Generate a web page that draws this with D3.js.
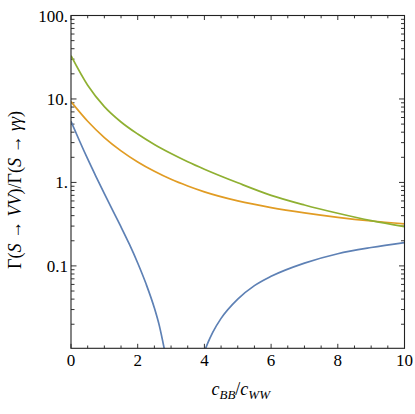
<!DOCTYPE html>
<html>
<head>
  <meta charset="utf-8">
  <title>Decay ratios</title>
  <script src="https://d3js.org/d3.v7.min.js"></script>
  <style type="text/css">
  body { margin: 0; background: white; }
  text { font-family: "Liberation Serif", "DejaVu Serif", serif; fill: black; }
  </style>
</head>
<body>
<div id="chart"></div>
<script>

// values, ratio Gamma(S -> VV)/Gamma(S -> gamma gamma)
var xGrid = [0, 0.5, 1, 1.5, 2, 2.5, 3, 3.5, 4, 5, 6, 7, 8, 9, 10];
var ratioWW = [33, 14.6, 8.1, 5.3, 3.8, 2.85, 2.22, 1.77, 1.44, 0.99, 0.70, 0.537, 0.427, 0.348, 0.295];
var ratioZZ = [9.3, 5.41, 3.45, 2.39, 1.76, 1.36, 1.09, 0.906, 0.771, 0.601, 0.500, 0.432, 0.382, 0.345, 0.318];

// Z gamma has a zero between 2.8 and 4, so two pieces
var xZgLeft = [0, 0.25, 0.5, 0.75, 1, 1.25, 1.5, 1.75, 2, 2.25, 2.5, 2.65, 2.8];
var ratioZgLeft = [5.4, 3.18, 1.91, 1.175, 0.733, 0.462, 0.293, 0.182, 0.1084, 0.061, 0.0313, 0.0191, 0.0100];
var xZgRight = [4, 4.1, 4.25, 4.5, 5, 5.5, 6, 7, 8, 9, 10];
var ratioZgRight = [0.0094, 0.0119, 0.016, 0.0235, 0.040, 0.058, 0.075, 0.108, 0.140, 0.166, 0.190];

var xTicks = [0, 2, 4, 6, 8, 10];
var yTicks = [100, 10, 1, 0.1];
var yTickLabels = ["100.", "10.", "1.", "0.1"];

var width = 415,
    height = 414;
var margin = {left: 71, top: 15.5, right: 10.5, bottom: 65.7};
var w = width - margin.left - margin.right,
    h = height - margin.top - margin.bottom;

var svg = d3.select("#chart")
  .append("svg")
    .attr("width", width)
    .attr("height", height);

var g = svg.append("g")
  .attr("transform", "translate(" + margin.left + "," + margin.top + ")");

var x = d3.scaleLinear().domain([0, 10]).range([0, w]);
var y = d3.scaleLog().domain([0.0103, 100]).range([h, 0]);

g.append("clipPath")
  .attr("id", "plotclip")
  .append("rect")
    .attr("width", w)
    .attr("height", h);

// minor ticks
var xMinor = d3.range(0, 10.01, 0.5);
var yMinor = [];
[0.01, 0.1, 1, 10].forEach(function(d) {
  for (var k = 2; k <= 9; k++) yMinor.push(d * k);
});
yMinor = yMinor.filter(function(d) { return d > 0.0103 && d < 100; });

var tickColor = "#333";

// bottom + top ticks
xMinor.forEach(function(d) {
  var major = xTicks.indexOf(d) >= 0;
  var len = major ? 4.5 : 2.8;
  g.append("line")
    .attr("x1", x(d)).attr("x2", x(d))
    .attr("y1", h).attr("y2", h - len)
    .attr("stroke", tickColor).attr("stroke-width", 1);
  g.append("line")
    .attr("x1", x(d)).attr("x2", x(d))
    .attr("y1", 0).attr("y2", len)
    .attr("stroke", tickColor).attr("stroke-width", 1);
});

// left + right ticks
yTicks.concat(yMinor).forEach(function(d) {
  var major = yTicks.indexOf(d) >= 0;
  var len = major ? 5.5 : 3.5;
  g.append("line")
    .attr("x1", 0).attr("x2", len)
    .attr("y1", y(d)).attr("y2", y(d))
    .attr("stroke", tickColor).attr("stroke-width", 1);
  g.append("line")
    .attr("x1", w).attr("x2", w - len)
    .attr("y1", y(d)).attr("y2", y(d))
    .attr("stroke", tickColor).attr("stroke-width", 1);
});

// tick labels
g.selectAll(".xlab")
  .data(xTicks)
  .enter()
  .append("text")
    .attr("x", function(d) { return x(d); })
    .attr("y", h + 18)
    .attr("text-anchor", "middle")
    .style("font-size", "17px")
    .text(function(d) { return d; });

g.selectAll(".ylab")
  .data(yTicks)
  .enter()
  .append("text")
    .attr("x", -3)
    .attr("y", function(d) { return y(d) + 6; })
    .attr("text-anchor", "end")
    .style("font-size", "17px")
    .text(function(d, i) { return yTickLabels[i]; });

// curves
var line = d3.line()
  .x(function(d) { return x(d[0]); })
  .y(function(d) { return y(d[1]); })
  .curve(d3.curveMonotoneX);

var curves = [
  {xs: xZgLeft, ys: ratioZgLeft, color: "#5e81b5"},
  {xs: xZgRight, ys: ratioZgRight, color: "#5e81b5"},
  {xs: xGrid, ys: ratioZZ, color: "#e19c24"},
  {xs: xGrid, ys: ratioWW, color: "#8fb032"}
];

g.append("g")
  .attr("clip-path", "url(#plotclip)")
  .selectAll("path")
  .data(curves)
  .enter()
  .append("path")
    .attr("d", function(c) { return line(d3.zip(c.xs, c.ys)); })
    .attr("fill", "none")
    .attr("stroke", function(c) { return c.color; })
    .attr("stroke-width", 1.7);

// frame
g.append("rect")
  .attr("width", w)
  .attr("height", h)
  .attr("fill", "none")
  .attr("stroke", "#222")
  .attr("stroke-width", 1.1);

// axis titles
var xt = svg.append("text")
  .attr("x", margin.left + w / 2 + 3)
  .attr("y", 395)
  .attr("text-anchor", "middle")
  .style("font-size", "18px");
xt.append("tspan").style("font-style", "italic").text("c");
xt.append("tspan").style("font-style", "italic").style("font-size", "13px").attr("dy", 4).text("BB");
xt.append("tspan").attr("dy", -4).text("/");
xt.append("tspan").style("font-style", "italic").text("c");
xt.append("tspan").style("font-style", "italic").style("font-size", "13px").attr("dy", 4).text("WW");

var yt = svg.append("text")
  .attr("transform", "translate(21," + (margin.top + h / 2 + 8) + ") rotate(-90)")
  .attr("text-anchor", "middle")
  .style("font-size", "18px");
yt.append("tspan").text("Γ(");
yt.append("tspan").style("font-style", "italic").text("S");
yt.append("tspan").text(" → ");
yt.append("tspan").style("font-style", "italic").text("VV");
yt.append("tspan").text(")/Γ(");
yt.append("tspan").style("font-style", "italic").text("S");
yt.append("tspan").text(" → ");
yt.append("tspan").style("font-style", "italic").text("γγ");
yt.append("tspan").text(")");

</script>
</body>
</html>
